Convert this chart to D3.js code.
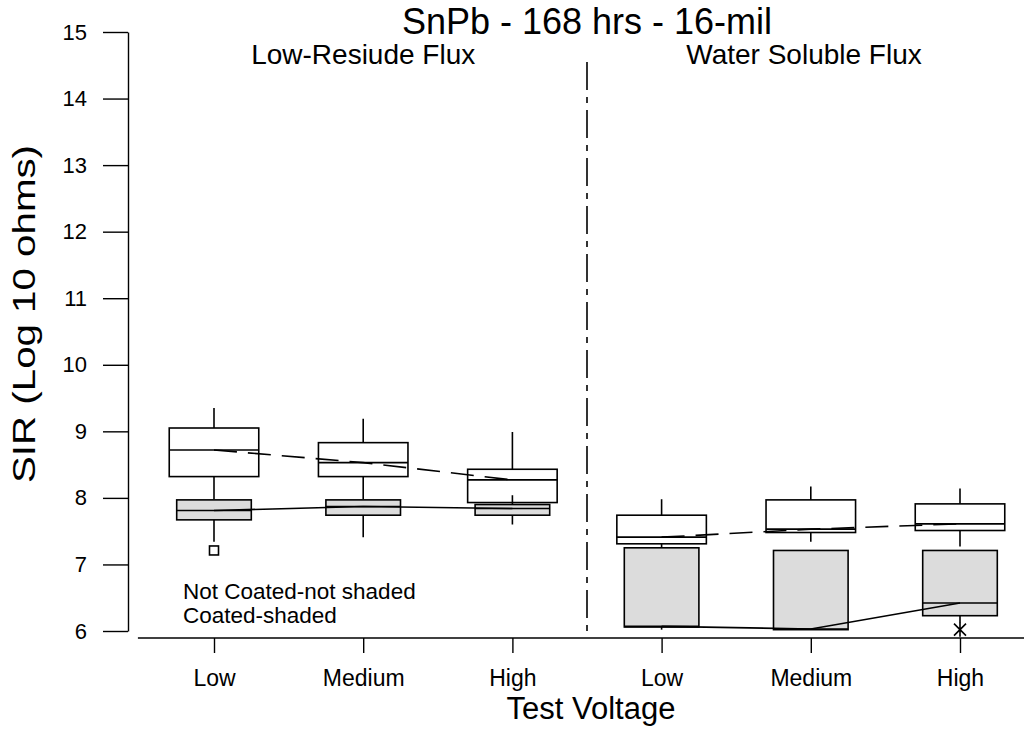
<!DOCTYPE html>
<html>
<head>
<meta charset="utf-8">
<script src="https://cdn.jsdelivr.net/npm/d3@7"></script>
<style>
  html, body { margin: 0; padding: 0; background: #fff; }
  svg { display: block; font-family: "Liberation Sans", Arial, sans-serif; }
</style>
</head>
<body>
<svg id="chart" width="1024" height="746"></svg>
<script>
// Flux groups and test voltages
const fluxGroups = ["Low-Resiude Flux", "Water Soluble Flux"];
const voltages = ["Low", "Medium", "High"];
const yTicks = [6, 7, 8, 9, 10, 11, 12, 13, 14, 15];

// Box summaries per group x voltage: [lower whisker, Q1, median, Q3, upper whisker]
const notCoated = [
  [7.98, 8.32, 8.72, 9.05, 9.35],
  [7.98, 8.32, 8.53, 8.83, 9.19],
  [7.93, 7.93, 8.27, 8.43, 8.99],
  [7.25, 7.31, 7.41, 7.74, 7.98],
  [7.34, 7.48, 7.53, 7.97, 8.17],
  [7.27, 7.51, 7.61, 7.91, 8.14]
];
const coated = [
  [7.34, 7.67, 7.81, 7.97, 7.97],
  [7.41, 7.74, 7.87, 7.97, 7.97],
  [7.60, 7.74, 7.84, 7.90, 8.04],
  [6.02, 6.06, 6.07, 7.25, 7.25],
  [6.02, 6.02, 6.03, 7.21, 7.21],
  [6.12, 6.23, 6.42, 7.21, 7.21]
];
// Outliers: [category index, value, symbol]
const coatedOutliers = [
  [0, 7.21, "square"],
  [5, 6.02, "star"]
];
const legendLines = ["Not Coated-not shaded", "Coated-shaded"];

const svg = d3.select("#chart");
const W = 1024;
const FONT = "'Liberation Sans', Arial, sans-serif";
const SHADE = "#dcdcdc";

const keys = [];
fluxGroups.forEach((g, gi) => voltages.forEach(v => keys.push(gi + "|" + v)));

const x = d3.scalePoint().domain(keys).range([214, 960]);
const step = x.step();
const y = d3.scaleLinear().domain([6, 15]).range([631, 32]);

// Y axis
const yAxis = svg.append("g")
  .attr("transform", "translate(128,0)")
  .call(d3.axisLeft(y).tickValues(yTicks).tickSize(25).tickSizeOuter(0).tickPadding(16));
yAxis.selectAll("path, line").attr("stroke", "#000").attr("stroke-width", 1.4);
yAxis.selectAll("text").attr("font-size", 22).attr("font-family", FONT).attr("fill", "#000");

// X axis (baseline drawn separately so it runs past the category range)
const xBase = 638;
const xAxis = svg.append("g")
  .attr("transform", `translate(0,${xBase})`)
  .call(d3.axisBottom(x).tickSize(15).tickSizeOuter(0).tickPadding(17)
    .tickFormat(k => k.split("|")[1]));
xAxis.select(".domain").remove();
xAxis.selectAll("line").attr("stroke", "#000").attr("stroke-width", 1.4);
xAxis.selectAll("text").attr("font-size", 23).attr("font-family", FONT).attr("fill", "#000");
svg.append("line")
  .attr("x1", x(keys[0]) - step * 0.51).attr("x2", W)
  .attr("y1", xBase).attr("y2", xBase)
  .attr("stroke", "#000").attr("stroke-width", 1.4);

// Group divider
const divX = (x(keys[2]) + x(keys[3])) / 2;
svg.append("line")
  .attr("x1", divX).attr("x2", divX)
  .attr("y1", 62).attr("y2", 632)
  .attr("stroke", "#000").attr("stroke-width", 1.6)
  .attr("stroke-dasharray", "28,7,6,7");

// Box drawing
function drawBoxes(data, width, fill) {
  const g = svg.append("g");
  data.forEach((d, i) => {
    const cx = x(keys[i]);
    const [lo, q1, med, q3, hi] = d;
    const bg = g.append("g");
    if (hi > q3) bg.append("line").attr("x1", cx).attr("x2", cx).attr("y1", y(q3)).attr("y2", y(hi));
    if (lo < q1) bg.append("line").attr("x1", cx).attr("x2", cx).attr("y1", y(q1)).attr("y2", y(lo));
    bg.append("rect")
      .attr("x", cx - width / 2).attr("width", width)
      .attr("y", y(q3)).attr("height", y(q1) - y(q3))
      .attr("fill", fill);
    bg.append("line").attr("x1", cx - width / 2).attr("x2", cx + width / 2)
      .attr("y1", y(med)).attr("y2", y(med));
    bg.selectAll("line, rect").attr("stroke", "#000").attr("stroke-width", 1.6);
  });
}
drawBoxes(notCoated, step * 0.6, "#fff");
drawBoxes(coated, step * 0.5, SHADE);

// Median connect lines, per flux group
function connect(data, dash) {
  [0, 1].forEach(gi => {
    const pts = data.slice(gi * 3, gi * 3 + 3).map((d, j) => [x(keys[gi * 3 + j]), y(d[2])]);
    svg.append("path")
      .attr("d", d3.line()(pts))
      .attr("fill", "none").attr("stroke", "#000").attr("stroke-width", 1.6)
      .attr("stroke-dasharray", dash);
  });
}
connect(notCoated, "23,11");
connect(coated, null);

// Outlier symbols
coatedOutliers.forEach(([i, v, sym]) => {
  const cx = x(keys[i]), cy = y(v);
  if (sym === "square") {
    svg.append("rect").attr("x", cx - 4.5).attr("y", cy - 4.5).attr("width", 9).attr("height", 9)
      .attr("fill", "#fff").attr("stroke", "#000").attr("stroke-width", 1.6);
  } else {
    const r = 6;
    svg.append("path")
      .attr("d", `M${cx},${cy - r - 1}V${cy + r + 1}M${cx - r},${cy - r}L${cx + r},${cy + r}M${cx - r},${cy + r}L${cx + r},${cy - r}`)
      .attr("stroke", "#000").attr("stroke-width", 1.6).attr("fill", "none");
  }
});

// Text
function label(txt, tx, ty, size, anchor, rotate, len) {
  const t = svg.append("text")
    .attr("transform", `translate(${tx},${ty})` + (rotate ? ` rotate(${rotate})` : ""))
    .attr("text-anchor", anchor)
    .attr("font-size", size).attr("font-family", FONT).attr("fill", "#000")
    .text(txt);
  if (len) t.attr("textLength", len).attr("lengthAdjust", "spacingAndGlyphs");
  return t;
}

label("SnPb - 168 hrs - 16-mil", divX, 34, 36, "middle");
label(fluxGroups[0], (x(keys[0]) + x(keys[2])) / 2, 64, 28, "middle");
label(fluxGroups[1], 804, 64, 28, "middle");
label("Test Voltage", 591, 719, 31, "middle");
label("SIR (Log 10 ohms)", 35, 314, 32, "middle", -90, 338);
legendLines.forEach((s, i) => label(s, 183, 599 + i * 24.3, 22.5, "start"));
</script>
</body>
</html>
